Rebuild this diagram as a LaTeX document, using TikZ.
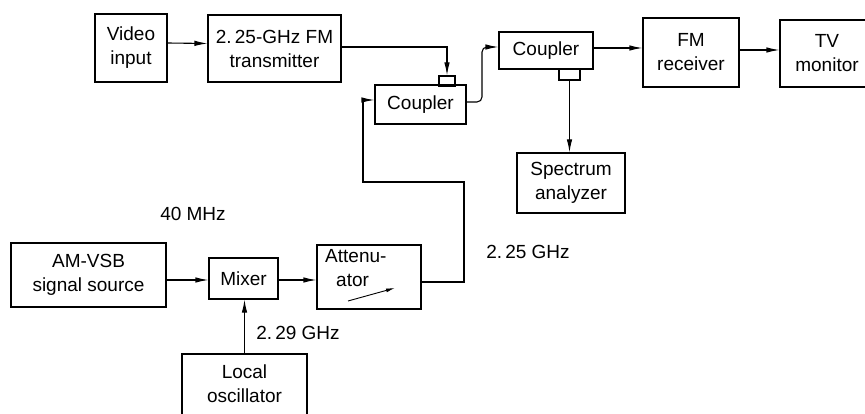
\documentclass[tikz,border=0pt]{standalone}
\usepackage{fontspec}
\setmainfont{Liberation Sans}
\usetikzlibrary{arrows.meta}
\begin{document}
\begin{tikzpicture}[x=1pt,y=-1pt,
  blk/.style={draw, line width=1.1pt, inner sep=0pt, align=center,
    font=\fontsize{19}{24}\selectfont},
  stubbox/.style={draw, line width=1.1pt, inner sep=0pt},
  lbl/.style={inner sep=0pt, font=\fontsize{19}{24}\selectfont},
  conn/.style={line width=1.1pt},
  arr/.style={conn, -{Latex[length=13pt,width=5.5pt]}},
  smallarr/.style={line width=0.9pt, -{Latex[length=9pt,width=4pt]}}]
\useasboundingbox (0,0) rectangle (865,414);
\clip (0,0) rectangle (865,414);
% top row
\node[blk, minimum width=72pt, minimum height=68pt] (vid) at (131,48) {Video\\input};
\node[blk, minimum width=133pt, minimum height=67pt] (tx) at (274.5,48.5) {2.\,25-GHz FM\\transmitter};
\node[blk, minimum width=91pt, minimum height=39pt] (c1) at (420.5,104.5) {Coupler};
\node[stubbox, minimum width=16pt, minimum height=10pt] (s1) at (447,81) {};
\node[blk, minimum width=94pt, minimum height=37pt] (c2) at (546,50.5) {Coupler};
\node[stubbox, minimum width=21pt, minimum height=11pt] (s2) at (569.5,74.5) {};
\node[blk, minimum width=96pt, minimum height=69pt] (fm) at (691,52.5) {FM\\receiver};
\node[blk, minimum width=94pt, minimum height=67pt] (tv) at (827,53.5) {TV\\monitor};
\node[blk, minimum width=108pt, minimum height=60pt] (spec) at (571,183) {Spectrum\\analyzer};
% bottom row
\node[blk, minimum width=155pt, minimum height=64pt] (am) at (88.5,275) {AM-VSB\\signal source};
\node[blk, minimum width=69pt, minimum height=41pt] (mix) at (243.5,278.5) {Mixer};
\node[blk, minimum width=104pt, minimum height=64pt] (att) at (369,277) {};
\node[lbl, align=left, anchor=north west] (attt) at (325,249) {Attenu-\\\hspace*{11pt}ator};
\node[blk, minimum width=125pt, minimum height=70pt] (lo) at (244.5,389) {Local\\oscillator\\[-14pt]};
% labels
\node[lbl] (f40) at (193,214) {40 MHz};
\node[lbl] (f229) at (298,333) {2.\,29 GHz};
\node[lbl] (f225) at (528,252) {2.\,25 GHz};
% connectors
\draw[arr] ([yshift=5pt]vid.east) -- ([yshift=5pt]tx.west);
\draw[arr] ([yshift=1.5pt]tx.east) -| (s1.north);
\coordinate (k1) at (482,102);
\coordinate (k2) at (482,47);
\draw[arr, rounded corners=5pt] ([yshift=2.5pt]c1.east) -- (k1) -- (k2) -- ([yshift=3.5pt]c2.west);
\draw[arr] ([yshift=2.5pt]c2.east) -- ([yshift=4.5pt]fm.west);
\draw[arr] ([yshift=2.5pt]fm.east) -- ([yshift=3.5pt]tv.west);
\draw[arr] (s2.south) -- (s2.south |- spec.north);
\draw[arr] ([yshift=-5pt]am.east) -- ([yshift=-1.5pt]mix.west);
\draw[arr] ([yshift=-1.5pt]mix.east) -- ([yshift=-3pt]att.west);
\draw[arr] (lo.north) -- (lo.north |- mix.south);
\coordinate (l1) at (464,282);
\coordinate (l2) at (464,182);
\coordinate (l3) at (363,182);
\coordinate (l4) at (363,100);
\draw[arr] ([yshift=-5pt]att.east) -- (l1) -- (l2) -- (l3) -- (l4) -- ([yshift=4.5pt]c1.west);
\coordinate (a1) at ([shift={(-21pt,-24pt)}]att.center);
\coordinate (a2) at ([shift={(26pt,-11pt)}]att.center);
\draw[smallarr] (a1) -- (a2);
\end{tikzpicture}
\end{document}
